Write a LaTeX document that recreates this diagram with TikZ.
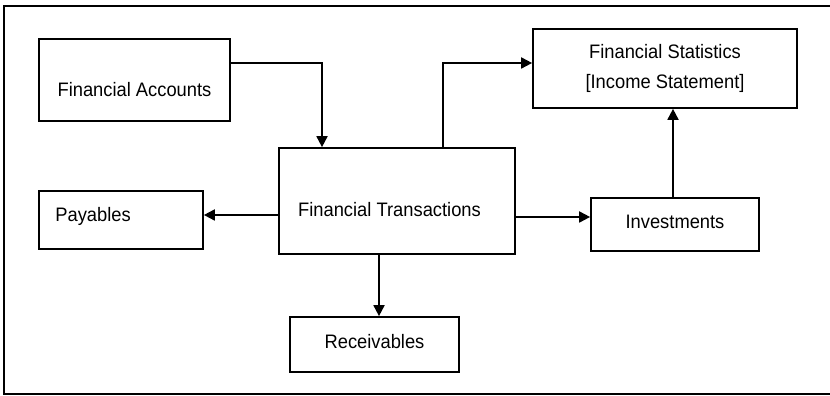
\documentclass[tikz,border=0pt]{standalone}
\usepackage{fontspec}
\setmainfont{Liberation Sans}
\newfontfamily\diafont[FakeStretch=0.94]{Liberation Sans}
\usetikzlibrary{arrows.meta}
\begin{document}
\begin{tikzpicture}[x=1pt,y=1pt,
  box/.style={draw=black, line width=1.7pt, fill=white, inner sep=0pt, minimum width=#1},
  txt/.style={inner sep=0pt, font=\diafont\fontsize{19.5}{29.5}\selectfont},
  arr/.style={line width=1.8pt, -{Triangle[length=11pt,width=11pt]}}]
\useasboundingbox (0,0) rectangle (830,396);
\draw[line width=2pt] (830,390) -- (4,390) -- (4,1.5) -- (830,1.5);
% boxes
\node[box=191pt, minimum height=82pt] (fa) at (134.5,316) {};
\node[box=236pt, minimum height=106pt] (ft) at (397,195) {};
\node[box=164pt, minimum height=58pt] (pay) at (121,176) {};
\node[box=169pt, minimum height=55pt] (rec) at (374.5,51.5) {};
\node[box=168pt, minimum height=53pt] (inv) at (675,171.5) {};
\node[box=264pt, minimum height=79pt, align=center, txt] (fs) at (665,327.5) {Financial Statistics\\{}[Income Statement]};
% texts
\node[txt, anchor=base] (fa-t) at ([yshift=-17pt]fa.center) {Financial Accounts};
\node[txt, anchor=base] (ft-t) at ([xshift=-7.5pt,yshift=-16pt]ft.center) {Financial Transactions};
\node[txt, anchor=base west] (pay-t) at ([xshift=17pt,yshift=-2pt]pay.west) {Payables};
\node[txt, anchor=base] (rec-t) at ([yshift=-4.5pt]rec.center) {Receivables};
\node[txt, anchor=base] (inv-t) at ([yshift=-4.5pt]inv.center) {Investments};
% connectors
\draw[arr] ([yshift=17pt]fa.east) -| ([xshift=-75pt]ft.north);
\draw[arr] ([xshift=46pt]ft.north) |- ([yshift=5.5pt]fs.west);
\draw[arr] ([yshift=-14pt]ft.west) coordinate (p1) -- (p1 -| pay.east);
\draw[arr] ([xshift=-18pt]ft.south) coordinate (p2) -- (p2 |- rec.north);
\draw[arr] ([yshift=-16pt]ft.east) coordinate (p3) -- (p3 -| inv.west);
\draw[arr] ([xshift=-2pt]inv.north) coordinate (p4) -- (p4 |- fs.south);
\end{tikzpicture}
\end{document}
